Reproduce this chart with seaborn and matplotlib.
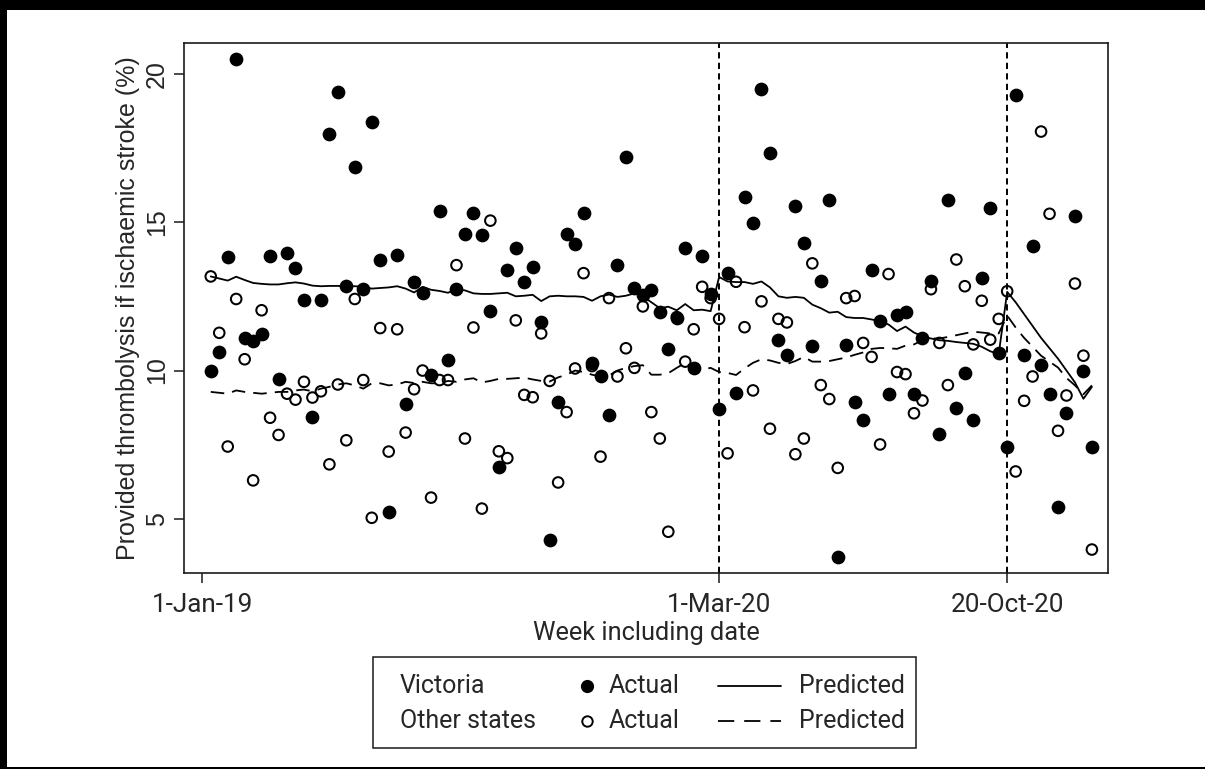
import numpy as np
import pandas as pd
import matplotlib
matplotlib.use("Agg")
import matplotlib.pyplot as plt
import seaborn as sns
from matplotlib.patches import Rectangle
from matplotlib.lines import Line2D

# Weekly series (week 1 = first week of 2019)
vic_actual = [
    10.00, 10.63, 13.84, 20.51, 11.10, 10.99, 11.24, 13.87, 9.71, 13.96,
    13.46, 12.38, 8.42, 12.38, 17.96, 19.38, 12.85, 16.85, 12.74, 18.36,
    13.71, 5.23, 13.89, 8.87, 12.97, 12.62, 9.86, 15.39, 10.35, 12.73,
    14.60, 15.32, 14.56, 12.00, 6.75, 13.40, 14.13, 12.99, 13.49, 11.62,
    4.28, 8.93, 14.59, 14.27, 15.32, 10.26, 9.80, 8.50, 13.54, 17.20,
    12.78, 12.53, 12.71, 11.97, 10.73, 11.77, 14.13, 10.09, 13.85, 12.59,
    8.70, 13.28, 9.25, 15.84, 14.96, 19.50, 17.32, 11.02, 10.53, 15.54,
    14.30, 10.82, 13.02, 15.76, 3.72, 10.87, 8.95, 8.35, 13.40, 11.66,
    9.20, 11.87, 11.97, 9.20, 11.11, 13.02, 7.86, 15.76, 8.75, 9.92,
    8.35, 13.13, 15.46, 10.58, 7.44, 19.27, 10.53, 14.19, 10.20, 9.20,
    5.42, 8.57, 15.21, 10.00, 7.43,
]
oth_actual = [
    13.17, 11.27, 7.44, 12.41, 10.38, 6.30, 12.03, 8.41, 7.83, 9.22,
    9.02, 9.62, 9.09, 9.30, 6.84, 9.53, 7.65, 12.41, 9.68, 5.04,
    11.43, 7.27, 11.39, 7.91, 9.37, 10.00, 5.72, 9.68, 9.68, 13.55,
    7.71, 11.45, 5.35, 15.05, 7.28, 7.05, 11.69, 9.18, 9.10, 11.25,
    9.65, 6.23, 8.60, 10.07, 13.28, 10.15, 7.10, 12.44, 9.80, 10.75,
    10.09, 12.16, 8.60, 7.71, 4.57, 11.80, 10.30, 11.39, 12.82, 12.44,
    11.74, 7.21, 12.99, 11.46, 9.33, 12.33, 8.04, 11.74, 11.62, 7.18,
    7.71, 13.61, 9.51, 9.04, 6.72, 12.44, 12.51, 10.93, 10.46, 7.51,
    13.25, 9.95, 9.88, 8.56, 8.99, 12.74, 10.93, 9.51, 13.74, 12.84,
    10.88, 12.35, 11.04, 11.74, 12.67, 6.60, 8.98, 9.80, 18.05, 15.28,
    7.97, 9.16, 12.93, 10.50, 3.97,
]
vic_pred = [
    13.17, 13.10, 13.03, 13.16, 13.05, 12.95, 12.92, 12.90, 12.90, 12.94,
    12.97, 12.93, 12.86, 12.84, 12.85, 12.85, 12.84, 12.84, 12.82, 12.76,
    12.78, 12.80, 12.84, 12.76, 12.63, 12.82, 12.72, 12.68, 12.62, 12.74,
    12.70, 12.60, 12.58, 12.58, 12.60, 12.62, 12.50, 12.52, 12.55, 12.34,
    12.50, 12.52, 12.50, 12.50, 12.48, 12.35, 12.50, 12.56, 12.48, 12.52,
    12.60, 12.50, 12.30, 12.10, 12.15, 12.03, 12.24, 12.03, 12.05, 12.00,
    13.15, 13.00, 12.98, 12.98, 12.92, 13.00, 12.80, 12.50, 12.45, 12.48,
    12.45, 12.22, 12.10, 11.95, 11.98, 11.80, 11.77, 11.77, 11.72, 11.66,
    11.55, 11.33, 11.48, 11.28, 11.15, 11.08, 11.02, 11.00, 10.96, 10.93,
    10.90, 10.80, 10.65, 10.55, 12.65, 12.30, 11.90, 11.50, 11.10, 10.75,
    10.40, 10.00, 9.60, 9.05, 9.45,
]
oth_pred = [
    9.28, 9.25, 9.22, 9.33, 9.28, 9.25, 9.22, 9.25, 9.28, 9.28,
    9.33, 9.36, 9.30, 9.39, 9.45, 9.53, 9.57, 9.50, 9.39, 9.57,
    9.57, 9.50, 9.53, 9.62, 9.58, 9.62, 9.57, 9.57, 9.65, 9.62,
    9.70, 9.74, 9.60, 9.65, 9.72, 9.72, 9.74, 9.76, 9.70, 9.65,
    9.63, 9.77, 9.86, 10.00, 9.95, 9.86, 9.80, 9.83, 10.00, 10.09,
    10.15, 10.18, 9.86, 9.86, 9.91, 10.09, 10.26, 10.09, 10.03, 10.09,
    9.95, 9.92, 9.85, 10.07, 10.26, 10.38, 10.34, 10.26, 10.22, 10.32,
    10.46, 10.30, 10.30, 10.32, 10.38, 10.44, 10.53, 10.61, 10.73, 10.76,
    10.75, 10.73, 10.84, 10.88, 11.02, 11.08, 11.08, 11.13, 11.19, 11.25,
    11.31, 11.28, 11.25, 11.25, 11.85, 11.45, 11.10, 10.80, 10.50, 10.30,
    10.10, 9.75, 9.50, 9.20, 9.50,
]

tick_weeks = [0, 61, 95]
tick_labels = ["1-Jan-19", "1-Mar-20", "20-Oct-20"]
y_ticks = [5, 10, 15, 20]

n = len(vic_actual)
weeks = np.arange(1, n + 1)
vic = pd.DataFrame({"week": weeks, "actual": vic_actual, "pred": vic_pred})
oth = pd.DataFrame({"week": weeks, "actual": oth_actual, "pred": oth_pred})

sns.set_theme(style="ticks")
plt.rcParams["font.family"] = ["Liberation Sans", "DejaVu Sans"]

W, H = 1205, 769
fig = plt.figure(figsize=(W / 100, H / 100), dpi=100)
fig.patch.set_facecolor("white")

ax_l, ax_r, ax_t, ax_b = 184, 1108, 42.5, 573
ax = fig.add_axes([ax_l / W, 1 - ax_b / H, (ax_r - ax_l) / W, (ax_b - ax_t) / H])
ax.set_facecolor("white")

ink = "black"
sns.scatterplot(data=vic, x="week", y="actual", ax=ax, color=ink, s=98,
                linewidth=0, marker="o", zorder=2, legend=False)
sns.scatterplot(data=oth, x="week", y="actual", ax=ax, marker="o",
                facecolors="none", edgecolor=ink, s=58, linewidth=1.45,
                zorder=3, legend=False)
sns.lineplot(data=vic, x="week", y="pred", ax=ax, color=ink, lw=1.3,
             errorbar=None, zorder=4, legend=False)
sns.lineplot(data=oth, x="week", y="pred", ax=ax, color=ink, lw=1.3,
             errorbar=None, zorder=4, legend=False,
             linestyle=(0, (7.5, 4.5)))

for wk in tick_weeks[1:]:
    ax.axvline(wk, color=ink, lw=1.4, linestyle=(0, (3.2, 2.2)), zorder=1)

ax.set_xlim(-2.16, 106.9)
ax.set_ylim(3.18, 21.05)

ax.set_xticks(tick_weeks)
ax.set_xticklabels(tick_labels, fontsize=18.8, family=["Roboto", "DejaVu Sans"])
ax.set_yticks(y_ticks)
ax.set_yticklabels([str(v) for v in y_ticks], fontsize=18, rotation=90, va="center")

for side in ["left", "right", "top", "bottom"]:
    ax.spines[side].set_visible(True)
    ax.spines[side].set_color("#1a1a1a")
    ax.spines[side].set_linewidth(1.2)
ax.tick_params(axis="both", direction="out", length=7, width=1.1, color="#1a1a1a")
ax.tick_params(axis="x", pad=7.5)
ax.tick_params(axis="y", pad=4)

ax.set_xlabel("Week including date", fontsize=18.3, family=["Roboto", "DejaVu Sans"], labelpad=2.5)
ax.set_ylabel("Provided thrombolysis if ischaemic stroke (%)", fontsize=18)
ax.yaxis.set_label_coords((140 - ax_l) / (ax_r - ax_l), 0.5)

# Legend panel
def fx(x):
    return x / W

def fy(y):
    return 1 - y / H

fig.add_artist(Rectangle((fx(373), fy(748)), fx(916) - fx(373), fy(657) - fy(748),
                         transform=fig.transFigure, fill=False, edgecolor="#1a1a1a", lw=1.1))
row_y = [686, 721]
leg_font = dict(fontsize=18, family=["Roboto", "DejaVu Sans"], va="center", ha="left")
for yy, name in zip(row_y, ["Victoria", "Other states"]):
    fig.text(fx(400), fy(yy), name, **leg_font)
    fig.text(fx(609), fy(yy), "Actual", **leg_font)
    fig.text(fx(799), fy(yy), "Predicted", **leg_font)
fig.add_artist(Line2D([fx(587)], [fy(row_y[0])], marker="o", markersize=9.5, color=ink,
                      markeredgewidth=0, transform=fig.transFigure))
fig.add_artist(Line2D([fx(587)], [fy(row_y[1])], marker="o", markersize=7.5, markerfacecolor="none",
                      markeredgecolor=ink, markeredgewidth=1.4, transform=fig.transFigure))
fig.add_artist(Line2D([fx(718), fx(781)], [fy(row_y[0])] * 2, color=ink, lw=1.3,
                      transform=fig.transFigure))
fig.add_artist(Line2D([fx(718), fx(781)], [fy(row_y[1])] * 2, color=ink, lw=1.3,
                      linestyle=(0, (9, 5.5)), transform=fig.transFigure))

# Outer frame bands
fig.add_artist(Rectangle((0, fy(10)), 1, fy(0) - fy(10), transform=fig.transFigure,
                         color="black", lw=0))
fig.add_artist(Rectangle((0, 0), fx(7), 1, transform=fig.transFigure, color="black", lw=0))
fig.add_artist(Rectangle((0, 0), 1, 2.5 / H, transform=fig.transFigure, color="black", lw=0))

fig.savefig("out.png", dpi=100)
